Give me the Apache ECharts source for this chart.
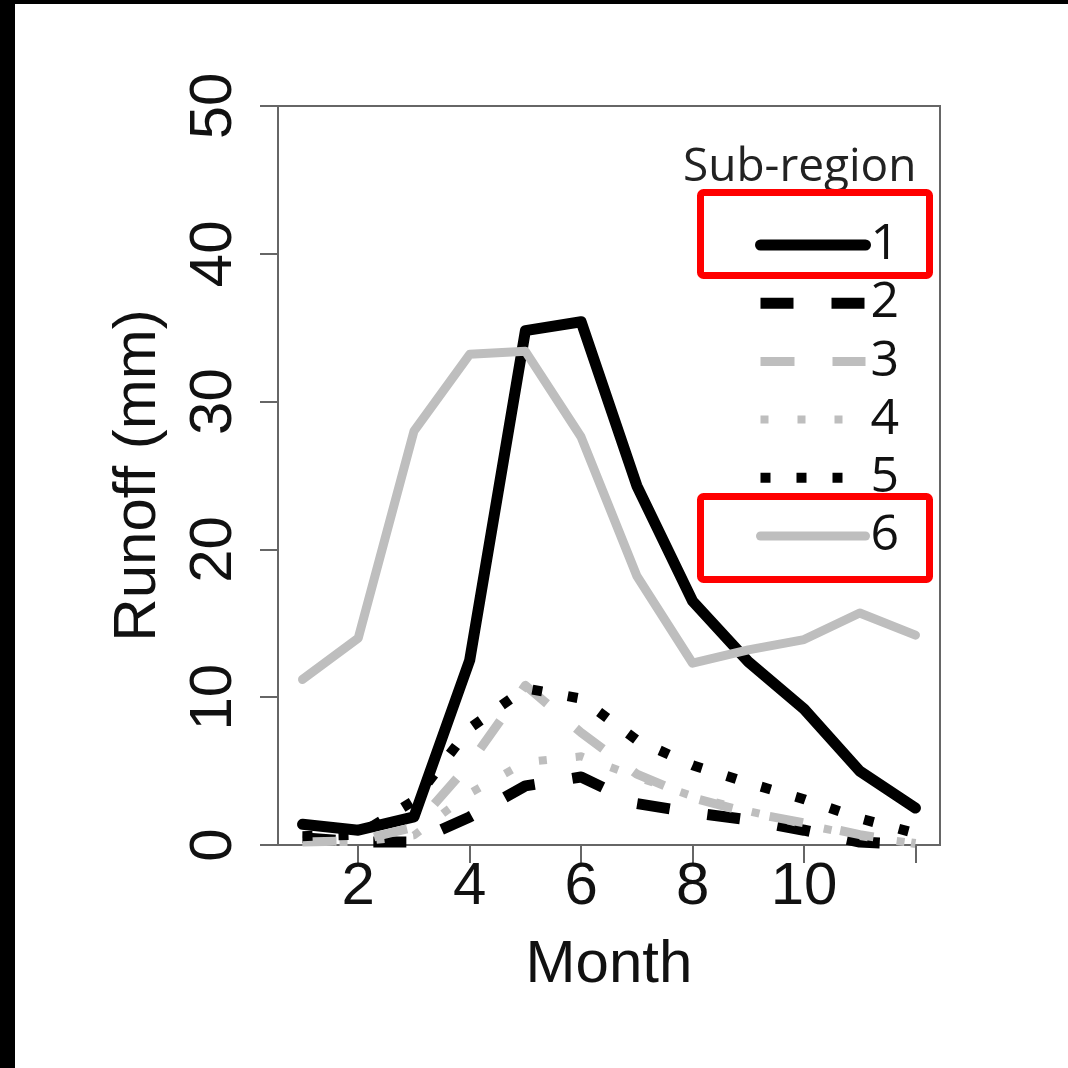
<!DOCTYPE html>
<html>
<head>
<meta charset="utf-8">
<script src="https://cdn.jsdelivr.net/npm/echarts@6/dist/echarts.min.js"></script>
<style>
  html, body { margin: 0; padding: 0; background: #fff; }
  #chart { width: 1068px; height: 1068px; }
</style>
</head>
<body>
<div id="chart"></div>
<script>
// months on the x axis
const months = [1, 2, 3, 4, 5, 6, 7, 8, 9, 10, 11, 12];
// runoff (mm) per sub-region
const sub1 = [1.4, 1.0, 1.9, 12.5, 34.8, 35.4, 24.3, 16.5, 12.4, 9.2, 5.0, 2.5];
const sub2 = [0.5, 0.2, 0.2, 1.9, 4.0, 4.6, 2.8, 2.2, 1.7, 1.0, 0.2, 0.0];
const sub3 = [0.2, 0.3, 1.2, 5.5, 10.8, 7.6, 4.8, 3.2, 2.2, 1.5, 0.7, 0.1];
const sub4 = [0.2, 0.2, 0.65, 3.5, 5.6, 6.0, 4.6, 3.3, 2.3, 1.4, 0.6, 0.1];
const sub5 = [0.6, 0.7, 3.0, 7.9, 10.6, 9.9, 7.1, 5.4, 4.2, 3.1, 1.8, 0.8];
const sub6 = [11.2, 14.0, 28.0, 33.2, 33.4, 27.6, 18.2, 12.3, 13.2, 13.9, 15.7, 14.2];
const names = ["1", "2", "3", "4", "5", "6"];
// tick labels
const xTicks = [2, 4, 6, 8, 10, 12];
const xLabels = [2, 4, 6, 8, 10];

const GRAY = "#bebebe";
const AXIS_FONT = "'Liberation Sans', Arial, sans-serif";
const LEGEND_FONT = "'Open Sans', sans-serif";

function pairs(vals) {
  return months.map((m, i) => [m, vals[i]]);
}

function line(name, vals, color, width, type, cap) {
  return {
    name: name,
    type: "line",
    data: pairs(vals),
    showSymbol: false,
    symbol: "none",
    silent: true,
    lineStyle: { color: color, width: width, type: type, cap: cap || "butt", join: "round" },
    itemStyle: { color: color }
  };
}

const chart = echarts.init(document.getElementById("chart"));
chart.setOption({
  backgroundColor: "#fff",
  animation: false,
  title: {
    text: "Sub-region",
    left: 678,
    top: 140,
    textStyle: { fontFamily: LEGEND_FONT, fontSize: 46, fontWeight: "normal", color: "#222" }
  },
  legend: {
    data: names,
    orient: "vertical",
    left: 750,
    top: 215,
    itemWidth: 105,
    itemHeight: 10,
    itemGap: 8.2,
    lineStyle: { width: "inherit" },
    itemStyle: { opacity: 0 },
    textStyle: { fontFamily: LEGEND_FONT, fontSize: 50, color: "#111" }
  },
  grid: {
    left: 278,
    right: 128,
    top: 106,
    bottom: 223,
    show: true,
    borderColor: "#666",
    borderWidth: 2
  },
  xAxis: {
    type: "value",
    min: 0.56,
    max: 12.44,
    name: "Month",
    nameLocation: "middle",
    nameGap: 90,
    nameTextStyle: { fontFamily: AXIS_FONT, fontSize: 60, color: "#111" },
    axisLine: { show: false },
    splitLine: { show: false },
    axisTick: { show: true, customValues: xTicks, length: 18, lineStyle: { color: "#666", width: 2 } },
    axisLabel: { customValues: xLabels, margin: 12, fontFamily: AXIS_FONT, fontSize: 60, color: "#111" }
  },
  yAxis: {
    type: "value",
    min: 0,
    max: 50,
    interval: 10,
    name: "Runoff (mm)",
    nameLocation: "middle",
    nameGap: 110,
    nameTextStyle: { fontFamily: AXIS_FONT, fontSize: 60, color: "#111" },
    axisLine: { show: false },
    splitLine: { show: false },
    axisTick: { show: true, length: 18, lineStyle: { color: "#666", width: 2 } },
    axisLabel: { rotate: 90, margin: 34, fontFamily: AXIS_FONT, fontSize: 60, color: "#111" }
  },
  series: [
    line("1", sub1, "#000", 11, "solid", "round"),
    line("2", sub2, "#000", 11, [33, 38]),
    line("3", sub3, GRAY, 9, [34, 38]),
    line("4", sub4, GRAY, 8, [8, 29]),
    line("5", sub5, "#000", 10, [10, 26]),
    line("6", sub6, GRAY, 9, "solid", "round")
  ],
  graphic: [
    // dark frame along the top and left edges
    { type: "rect", left: 0, top: 0, shape: { width: 15, height: 1068 }, style: { fill: "#000" }, z: 100 },
    { type: "rect", left: 0, top: 0, shape: { width: 1068, height: 4 }, style: { fill: "#000" }, z: 100 },
    // red highlight boxes
    { type: "rect", shape: { x: 700.5, y: 192.5, width: 229, height: 83, r: 3 },
      style: { fill: "none", stroke: "#ff0000", lineWidth: 7 }, z: 100 },
    { type: "rect", shape: { x: 700.5, y: 496.5, width: 229, height: 83, r: 3 },
      style: { fill: "none", stroke: "#ff0000", lineWidth: 7 }, z: 100 }
  ]
});
</script>
</body>
</html>
